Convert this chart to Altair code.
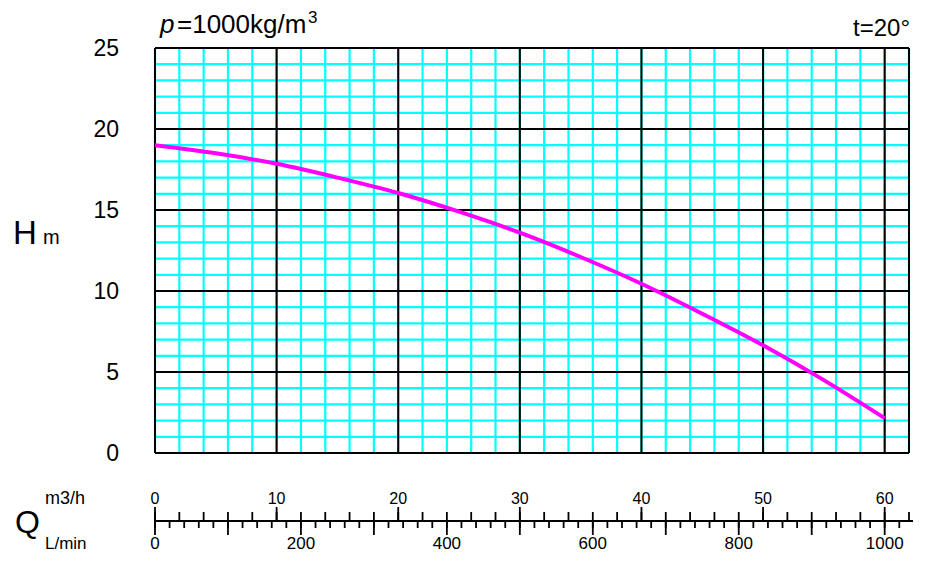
import altair as alt
import pandas as pd

# ---- data ----
flow_q = [0, 5, 10, 15, 20, 25, 30, 35, 40, 45, 50, 55, 60]          # m3/h
head_h = [19.0, 18.5, 17.85, 17.0, 16.05, 14.9, 13.6, 12.1, 10.45, 8.6, 6.65, 4.5, 2.15]  # m

q_grid_minor = list(range(0, 63, 2))       # cyan verticals (m3/h)
q_grid_major = list(range(0, 61, 10)) + [62]  # black verticals
h_grid_minor = list(range(0, 26, 1))       # cyan horizontals (m)
h_grid_major = [0, 5, 10, 15, 20, 25]      # black horizontals
h_labels = [0, 5, 10, 15, 20, 25]

q_tick_minor = list(range(0, 63, 2))       # m3/h minor ticks
q_tick_major = [0, 10, 20, 30, 40, 50, 60]
l_tick_minor = list(range(0, 1021, 20))    # L/min minor ticks
l_tick_major = list(range(0, 1001, 100))
l_labels = [0, 200, 400, 600, 800, 1000]

FONT = "Liberation Sans"
W, H = 754, 405
xs = alt.Scale(domain=[0, 62], nice=False, zero=False)
ys = alt.Scale(domain=[0, 25], nice=False, zero=False)

def lmin_to_q(v):
    return [x * 60 / 1000 for x in v]

curve = pd.DataFrame({"q": flow_q, "h": head_h})

def vrules(vals, color, width):
    return alt.Chart(pd.DataFrame({"q": vals})).mark_rule(color=color, strokeWidth=width).encode(
        x=alt.X("q:Q", scale=xs, axis=None), y=alt.value(0), y2=alt.value(H))

def hrules(vals, color, width):
    return alt.Chart(pd.DataFrame({"h": vals})).mark_rule(color=color, strokeWidth=width).encode(
        y=alt.Y("h:Q", scale=ys, axis=None), x=alt.value(0), x2=alt.value(W))

AX = 473  # axis line position relative to plot top

def ticks(vals, y1, y2, width=1.8):
    return alt.Chart(pd.DataFrame({"q": vals})).mark_rule(color="black", strokeWidth=width).encode(
        x=alt.X("q:Q", scale=xs, axis=None), y=alt.value(y1), y2=alt.value(y2))

def free_text(txt, x, y, size, align="left", style="normal", baseline="alphabetic"):
    return alt.Chart(pd.DataFrame({"t": [txt]})).mark_text(
        font=FONT, fontSize=size, align=align, baseline=baseline, fontStyle=style, color="black"
    ).encode(text="t:N", x=alt.value(x), y=alt.value(y))

layers = [
    vrules(q_grid_minor, "#00FFFF", 2.2),
    hrules(h_grid_minor, "#00FFFF", 2.2),
    vrules(q_grid_major, "black", 2),
    hrules(h_grid_major, "black", 2),
    alt.Chart(curve).mark_line(color="#FF00FF", strokeWidth=4, interpolate="monotone").encode(
        x=alt.X("q:Q", scale=xs, axis=None), y=alt.Y("h:Q", scale=ys, axis=None)),
    # y labels
    alt.Chart(pd.DataFrame({"h": h_labels})).mark_text(
        font=FONT, fontSize=23, align="right", baseline="middle", dy=1, color="black").encode(
        y=alt.Y("h:Q", scale=ys, axis=None), x=alt.value(-36), text="h:Q"),
    # bottom double axis
    alt.Chart(pd.DataFrame({"a": [0]})).mark_rule(color="black", strokeWidth=2).encode(
        x=alt.value(0), x2=alt.value(758), y=alt.value(AX)),
    ticks(q_tick_minor, AX - 9, AX),
    ticks(q_tick_major, AX - 14, AX),
    ticks(lmin_to_q(l_tick_minor), AX, AX + 7),
    ticks(lmin_to_q(l_tick_major), AX, AX + 14),
    alt.Chart(pd.DataFrame({"q": q_tick_major})).mark_text(
        font=FONT, fontSize=16, align="center", baseline="alphabetic", color="black").encode(
        x=alt.X("q:Q", scale=xs, axis=None), y=alt.value(504 - 48), text="q:Q"),
    alt.Chart(pd.DataFrame({"l": l_labels, "q": lmin_to_q(l_labels)})).mark_text(
        font=FONT, fontSize=17, align="center", baseline="alphabetic", color="black").encode(
        x=alt.X("q:Q", scale=xs, axis=None), y=alt.value(549 - 48), text="l:Q"),
    # annotations
    free_text("p", 5, -15, 26, style="italic"),
    free_text("=1000kg/m", 22, -15, 26),
    free_text("3", 153, -25, 17),
    free_text("t=20°", 755, -12, 24, align="right"),
    free_text("H", -142, 196, 33),
    free_text("m", -112, 196, 20),
    free_text("Q", -140, 485, 32),
    free_text("m3/h", -110, 456, 18),
    free_text("L/min", -110, 501, 17),
]

chart = alt.layer(*layers).properties(
    width=W, height=H,
    autosize=alt.AutoSizeParams(type="none"),
    padding={"left": 147, "top": 40, "right": 10, "bottom": 101},
    background="white",
).configure_view(strokeWidth=0)

chart.save("out.html", embed_options={"renderer": "svg", "actions": False})
